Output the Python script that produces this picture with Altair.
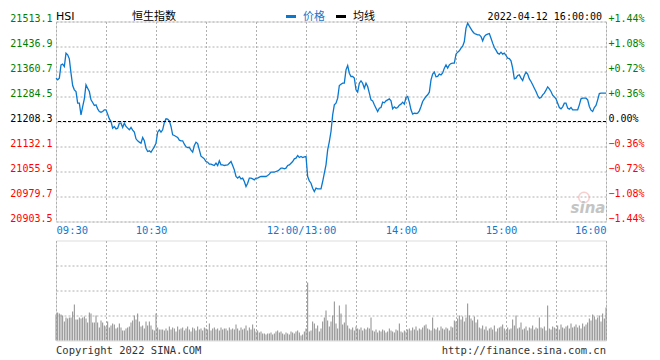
import json
import altair as alt
import pandas as pd

# ---------------- data ----------------
prev_close = 21208.3
y_ticks = [20903.5, 20979.7, 21055.9, 21132.1, 21208.3, 21284.5, 21360.7, 21436.9, 21513.1]
time_ticks = [0, 60, 150, 210, 270, 330]
time_labels = ["09:30", "10:30", "12:00/13:00", "14:00", "15:00", "16:00"]
grid_minutes = [0, 30, 60, 90, 120, 150, 180, 210, 240, 270, 300, 330]
vol_grid = [25, 50, 75]

# one price per trading minute (09:30 .. 12:00 | 13:00 .. 16:00)
prices = [
    21340.4, 21335.3, 21340.4, 21381.0, 21383.1, 21375.9, 21416.6, 21411.5, 21399.3, 21355.6, 21318.0,
    21304.8, 21299.7, 21264.2, 21264.2, 21228.6, 21254.0, 21277.4, 21320.1, 21309.9, 21299.7,
    21274.3, 21266.2, 21257.1, 21259.1, 21246.9, 21238.8, 21236.7, 21238.8, 21243.9, 21243.9,
    21230.7, 21216.4, 21208.3, 21188.0, 21193.1, 21185.9, 21188.0, 21203.2, 21203.2, 21190.0,
    21203.2, 21193.1, 21188.0, 21182.9, 21190.0, 21181.9, 21175.8, 21155.5, 21149.4, 21145.3,
    21142.3, 21159.5, 21149.4, 21127.0, 21116.9, 21118.9, 21114.8, 21123.0, 21131.1, 21142.3,
    21175.8, 21182.9, 21175.8, 21182.9, 21205.3, 21216.4, 21215.4, 21210.3, 21193.1, 21167.7,
    21165.6, 21162.6, 21159.5, 21151.4, 21149.4, 21149.4, 21139.2, 21131.1, 21129.1, 21129.1,
    21120.9, 21114.8, 21135.1, 21145.3, 21141.2, 21121.9, 21102.6, 21098.6, 21094.5, 21086.4,
    21084.3, 21078.3, 21078.3, 21076.2, 21074.2, 21081.3, 21074.2, 21088.4, 21076.2, 21076.2,
    21074.2, 21075.2, 21076.2, 21081.3, 21086.4, 21074.2, 21061.0, 21040.7, 21035.6, 21040.7,
    21033.5, 21035.6, 21025.4, 21010.2, 21020.3, 21035.6, 21035.6, 21033.5, 21030.5, 21035.6,
    21035.6, 21038.6, 21040.7, 21040.7, 21040.7, 21040.7, 21043.7, 21047.8, 21053.9, 21053.9,
    21053.9, 21055.9, 21057.9, 21061.0, 21066.1, 21066.1, 21064.0, 21066.1, 21074.2, 21076.2,
    21081.3, 21086.4, 21094.5, 21096.5, 21104.7, 21098.6, 21101.6, 21098.6, 21100.6, 21101.6,
    21040.7, 21027.5, 21020.3, 21005.1, 20994.9, 21005.1, 21003.1, 21003.1, 21003.1, 21025.4,
    21050.8, 21076.2, 21121.9, 21147.3, 21177.8, 21228.6, 21259.1, 21264.2, 21279.4, 21318.0,
    21322.1, 21325.1, 21325.1, 21365.8, 21379.0, 21355.6, 21345.5, 21345.5, 21340.4, 21304.8,
    21297.7, 21325.1, 21332.3, 21325.1, 21309.9, 21325.1, 21315.0, 21294.7, 21274.3, 21271.3,
    21259.1, 21248.9, 21238.8, 21248.9, 21251.0, 21267.2, 21265.2, 21271.3, 21274.3, 21277.4,
    21271.3, 21246.9, 21253.0, 21248.9, 21251.0, 21258.1, 21261.1, 21267.2, 21261.1, 21281.5,
    21284.5, 21267.2, 21243.9, 21230.7, 21233.7, 21232.7, 21233.7, 21240.8, 21254.0, 21269.3,
    21277.4, 21284.5, 21289.6, 21297.7, 21335.3, 21352.6, 21358.7, 21344.4, 21345.5, 21352.6,
    21350.5, 21356.6, 21370.9, 21381.0, 21370.9, 21381.0, 21385.1, 21386.1, 21386.1, 21413.5,
    21419.6, 21423.7, 21431.8, 21437.9, 21452.1, 21492.8, 21508.0, 21498.9, 21490.7, 21482.6,
    21476.5, 21474.5, 21472.5, 21472.5, 21467.4, 21454.2, 21467.4, 21472.5, 21474.5, 21476.5,
    21462.3, 21447.1, 21433.9, 21425.7, 21416.6, 21413.5, 21419.6, 21413.5, 21416.6, 21409.5,
    21401.3, 21400.3, 21393.2, 21370.9, 21338.3, 21340.4, 21348.5, 21350.5, 21340.4, 21333.3,
    21348.5, 21358.7, 21352.6, 21338.3, 21330.2, 21320.1, 21309.9, 21299.7, 21287.5, 21279.4,
    21281.5, 21289.6, 21294.7, 21303.8, 21314.0, 21307.9, 21299.7, 21288.6, 21283.5, 21277.4,
    21264.2, 21251.0, 21246.9, 21253.0, 21264.2, 21264.2, 21248.9, 21245.9, 21251.0, 21243.9,
    21243.9, 21243.9, 21243.9, 21259.1, 21277.4, 21279.4, 21279.4, 21279.4, 21274.3, 21254.0,
    21242.8, 21238.8, 21251.0, 21257.1, 21274.3, 21293.6, 21294.7, 21294.7, 21294.7, 21294.7,
]

# relative volume per minute (panel scale 0..100)
volumes = [
    26,
    28, 27, 26, 25, 19, 23, 22, 23, 23, 29, 36, 21, 21, 23, 22, 23, 24, 22, 18, 28,
    27, 18, 18, 25, 18, 13, 20, 18, 15, 14, 19, 13, 15, 17, 16, 12, 13, 17, 13, 10,
    10, 12, 13, 14, 18, 20, 25, 21, 27, 19, 14, 15, 12, 19, 15, 19, 15, 11, 10, 27,
    13, 11, 11, 11, 10,
    12, 10, 14, 11, 13, 12, 9, 14, 11, 12,
    13, 10, 12, 14, 11, 9, 13, 12, 10, 14,
    11, 12, 10, 13, 12, 11, 17, 10, 12, 13,
    11, 12, 10, 13, 11, 12, 12, 10, 13, 11,
    12, 11, 16, 12, 10, 13, 11, 12, 15, 10,
    13, 11, 16, 12, 9, 10, 8, 9, 7, 7,
    6, 7, 7, 8, 6, 7, 9, 10, 8, 9,
    7, 6, 8, 7, 6, 9, 8, 7, 9, 10,
    8, 5, 6, 9, 12,
    58,
    9, 10, 19, 17, 12, 15, 9, 12, 19, 23, 30, 20, 14, 19,
    25, 39, 17, 12, 35, 27, 16, 18, 36, 15,
    12, 11, 13, 10, 14, 12, 11, 13, 10, 12, 11, 13, 12, 23,
    10, 9, 11, 8, 10, 9, 11, 10, 8, 9, 12, 10, 9, 8, 11, 10, 17, 9, 8, 10, 9, 11,
    12, 10, 13, 11, 14, 10, 12, 11, 13, 15, 16, 12, 11, 10, 23, 12, 11, 13, 10, 14,
    12, 11, 13, 12, 10, 14, 13,
    20, 19, 22, 25, 21, 24, 19, 23, 37, 25, 22, 20, 24, 18, 21,
    13, 12, 15, 11, 14, 10, 12, 13, 11, 15, 9, 12, 13, 14, 16, 12, 10, 13, 11, 12,
    21, 15, 25, 12, 13, 18, 11, 12, 14, 10, 13, 12, 15, 11, 13, 12, 23, 13, 12, 14,
    10, 35, 12, 11, 14, 13, 12, 15, 11, 16, 13, 12, 14, 15, 12, 17, 13, 14, 16, 13,
    15, 12, 17, 14, 16, 18,
    22, 20, 26, 24, 21, 23, 25, 19, 27, 22, 33,
]

symbol = "HSI"
name = "恒生指数"
legend_price = "价格"
legend_avg = "均线"
stamp = "2022-04-12 16:00:00"
footer_left = "Copyright 2022 SINA.COM"
footer_right = "http://finance.sina.com.cn"
watermark = "sina"

# ---------------- styling ----------------
MONO = "DejaVu Sans Mono"
CJK = "Noto Sans CJK SC"
GREEN = "#008000"
RED = "#ff0000"
BLUE_LINE = "#0a78cf"
BLUE_TXT = "#1878c8"
GRID = "#b0b0b0"
W, H_MAIN, H_VOL = 550, 200, 100
HEAD_Y = -5

df = pd.DataFrame({"m": list(range(len(prices))), "price": prices})
vdf = pd.DataFrame({"m": list(range(len(volumes))), "vol": volumes})

xscale = alt.Scale(domain=[time_ticks[0], time_ticks[-1]], nice=False, zero=False)
yscale = alt.Scale(domain=[y_ticks[0], y_ticks[-1]], nice=False, zero=False)

tt = json.dumps(time_ticks)
tl = json.dumps(time_labels)
time_expr = f"indexof({tt}, datum.value) >= 0 ? {tl}[indexof({tt}, datum.value)] : ''"

color_cond = {
    "condition": [
        {"test": f"datum.value > {prev_close + 0.05}", "value": GREEN},
        {"test": f"datum.value < {prev_close - 0.05}", "value": RED},
    ],
    "value": "#000000",
}

x_label_offset = {
    "condition": {"test": f"datum.value == {time_ticks[0]} || datum.value == {time_ticks[-1]}", "value": 0},
    "value": -5,
}

pct_expr = (
    f"(datum.value > {prev_close + 0.05} ? '+' : '') + "
    f"(abs(datum.value - {prev_close}) < 0.05 ? '0.00' : "
    f"format((datum.value - {prev_close}) / {prev_close} * 100, '.2f')) + '%'"
)

line = alt.Chart(df).mark_line(color=BLUE_LINE, strokeWidth=1.3).encode(
    x=alt.X("m:Q", scale=xscale, axis=alt.Axis(
        values=grid_minutes, labelExpr=time_expr, grid=True, gridColor=GRID,
        gridDash=[2, 2], ticks=False, domain=False, labelFlush=True,
        labelColor=BLUE_TXT, labelFont=MONO, labelFontSize=10.5, labelPadding=4,
        labelOffset=x_label_offset, labelOverlap=False, title=None)),
    y=alt.Y("price:Q", scale=yscale, axis=alt.Axis(
        values=y_ticks, format=".1f", grid=True, gridColor=GRID, gridDash=[2, 2],
        ticks=False, domain=False, labelColor=color_cond, labelFont=MONO,
        labelFontSize=10, labelPadding=4, labelOffset=-3, title=None)),
)

base_rule = alt.Chart(pd.DataFrame({"v": [prev_close]})).mark_rule(
    color="#000000", strokeDash=[3, 2], strokeWidth=1
).encode(
    y=alt.Y("v:Q", scale=yscale, axis=alt.Axis(
        orient="right", values=y_ticks, labelExpr=pct_expr, grid=False, ticks=False,
        domain=False, labelColor=color_cond, labelFont=MONO, labelFontSize=10,
        labelPadding=2, labelOffset=-3, labelAlign="left", title=None))
)

def txt(s, x, y, color="#000000", align="left", font=MONO, size=11, **kw):
    return alt.Chart(pd.DataFrame({"t": [s]})).mark_text(
        align=align, baseline="middle", color=color, font=font, fontSize=size, **kw
    ).encode(text="t:N", x=alt.value(x), y=alt.value(y))

def bar(x1, x2, y, color):
    return alt.Chart(pd.DataFrame({"k": [0]})).mark_rule(color=color, strokeWidth=3).encode(
        x=alt.value(x1), x2=alt.value(x2), y=alt.value(y))

header = [
    txt(symbol, 0, HEAD_Y, font="DejaVu Sans", size=11),
    txt(name, 76, HEAD_Y, font=CJK, size=11),
    bar(230, 240, HEAD_Y, BLUE_LINE),
    txt(legend_price, 247, HEAD_Y, color=BLUE_TXT, font=CJK, size=11),
    bar(280, 290, HEAD_Y, "#000000"),
    txt(legend_avg, 297, HEAD_Y, font=CJK, size=11),
    txt(stamp, 546, HEAD_Y, align="right", size=10),
    alt.Chart(pd.DataFrame({"k": [0]})).mark_point(
        shape="circle", size=110, color="#f2a0a0", strokeWidth=1.5, opacity=0.5
    ).encode(x=alt.value(528), y=alt.value(176)),
    txt(watermark, 532, 186, color="#c4c4c4", align="center", font="DejaVu Sans",
        size=15, fontStyle="italic", fontWeight="bold"),
]

main = alt.layer(line, base_rule, *header).resolve_scale(y="independent").properties(
    width=W, height=H_MAIN)

vol_bars = alt.Chart(vdf).mark_rule(color="#8c8c8c", strokeWidth=1).encode(
    x=alt.X("m:Q", scale=xscale, axis=alt.Axis(
        values=grid_minutes, labels=False, ticks=False, domain=False, grid=True,
        gridColor=GRID, gridDash=[2, 2], title=None)),
    y=alt.Y("vol:Q", scale=alt.Scale(domain=[0, 100], nice=False), axis=alt.Axis(
        values=vol_grid, labels=False, ticks=False, domain=False, grid=True,
        gridColor=GRID, gridDash=[2, 2], title=None)),
    y2=alt.datum(0),
)

vol = alt.layer(
    vol_bars,
    txt(footer_left, 0, 110, color="#333333", size=10.5),
    txt(footer_right, W, 110, color="#333333", align="right", size=10.5),
).properties(width=W, height=H_VOL)

chart = alt.vconcat(main, vol, spacing=3).properties(
    padding={"left": 1, "top": 1.5, "right": 0, "bottom": 0}
).configure_view(stroke="#999999", strokeWidth=1).configure(background="white")

chart.save("out.html", embed_options={"renderer": "svg", "actions": False})
